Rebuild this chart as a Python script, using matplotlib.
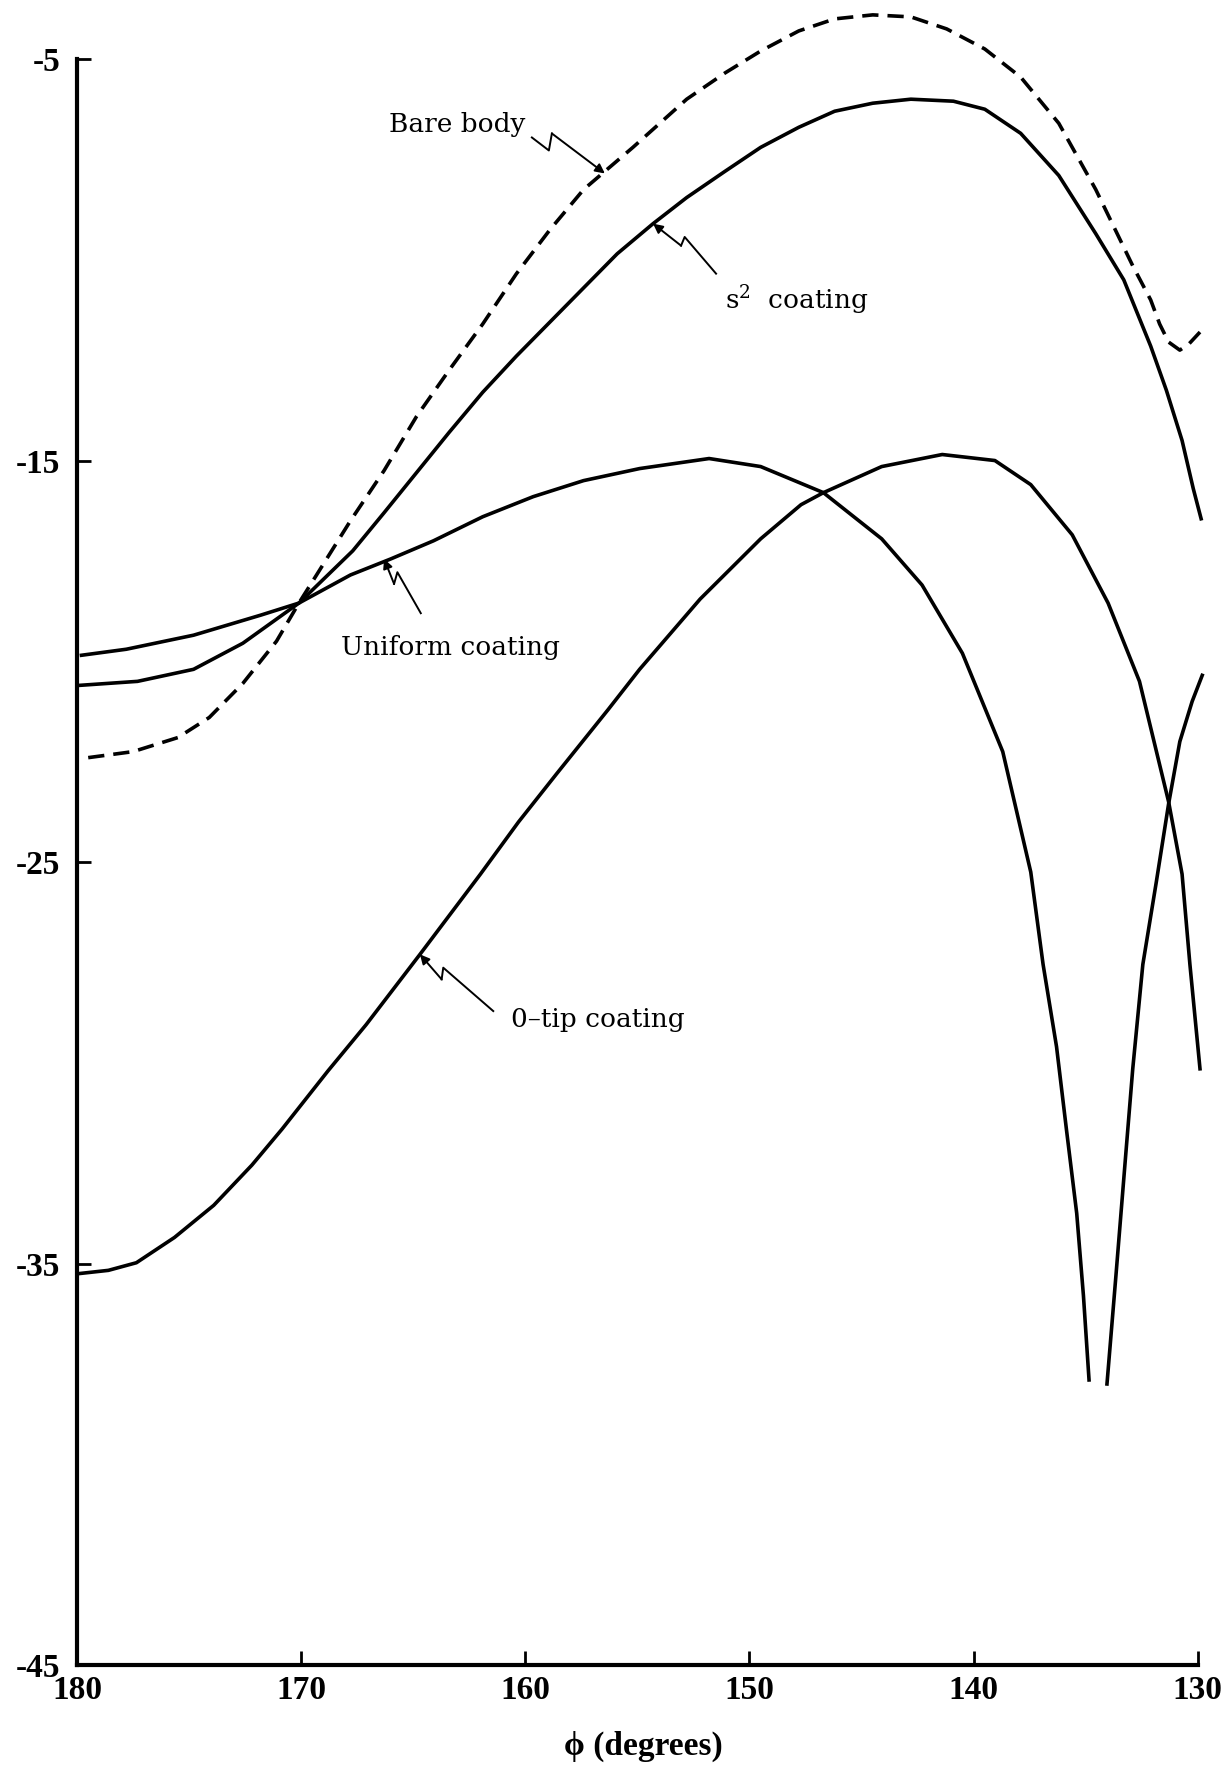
import numpy as np
import matplotlib
matplotlib.use('Agg')
import matplotlib.pyplot as plt

plt.rcParams['mathtext.fontset'] = 'dejavuserif'
plt.rcParams['mathtext.default'] = 'regular'

# curves (phi in degrees, level in dB)
bare_x = [179.5, 177.5, 175.5, 174.1, 172.6, 171.1, 170.1, 169.2, 167.8, 166.3,
          164.85, 163.4, 161.9, 160.4, 158.9, 157.4, 155.2, 154.4, 152.8, 151.1,
          149.5, 147.8, 146.2, 144.5, 142.8, 141.2, 139.5, 137.9, 136.2, 134.55,
          132.9, 132.1, 131.7, 131.3, 130.8, 130.4, 129.9]
bare_y = [-22.4, -22.25, -21.9, -21.4, -20.55, -19.5, -18.55, -17.75, -16.5, -15.25,
          -13.9, -12.75, -11.6, -10.35, -9.25, -8.25, -7.2, -6.8, -6.0, -5.35,
          -4.8, -4.3, -4.0, -3.9, -3.95, -4.25, -4.75, -5.45, -6.6, -8.25,
          -10.15, -11.0, -11.6, -12.05, -12.25, -12.1, -11.8]

s2_x = [179.9, 177.3, 174.8, 172.6, 170.1, 167.7, 166.3, 164.85, 163.4, 161.9,
        160.4, 158.9, 157.4, 155.9, 154.3, 152.8, 151.1, 149.5, 147.8, 146.2,
        144.5, 142.8, 140.9, 139.5, 137.9, 136.2, 134.55, 133.3, 132.1, 131.4,
        130.7, 130.2, 129.85]
s2_y = [-20.6, -20.5, -20.2, -19.55, -18.55, -17.25, -16.3, -15.3, -14.3, -13.3,
        -12.4, -11.55, -10.7, -9.85, -9.1, -8.45, -7.8, -7.2, -6.7, -6.3,
        -6.1, -6.0, -6.05, -6.25, -6.85, -7.9, -9.35, -10.5, -12.15, -13.25,
        -14.5, -15.7, -16.45]

uniform_x = [179.8, 177.8, 174.8, 171.8, 170.1, 167.8, 166.0, 164.1, 161.9, 159.65,
             157.4, 154.9, 151.8, 149.5, 146.7, 144.1, 142.3, 140.5, 138.7, 138.2,
             137.45, 136.9, 136.3, 135.85, 135.4, 135.1, 134.85, np.nan,
             134.05, 133.65, 133.2, 132.9, 132.45, 131.85, 131.3, 130.8, 130.25, 129.8]
uniform_y = [-19.85, -19.7, -19.35, -18.85, -18.55, -17.85, -17.45, -17.0, -16.4, -15.9,
             -15.5, -15.2, -14.95, -15.15, -15.8, -16.95, -18.1, -19.8, -22.25, -23.45,
             -25.25, -27.55, -29.6, -31.7, -33.75, -35.8, -37.9, np.nan,
             -38.0, -35.3, -32.2, -30.15, -27.55, -25.5, -23.55, -22.0, -21.0, -20.35]

tip_x = [179.9, 178.6, 177.35, 175.65, 173.9, 172.2, 170.85, 168.8, 167.1, 164.7, 162.0,
         160.3, 158.6, 156.3, 154.9, 152.2, 149.5, 147.7, 146.7, 144.1, 141.4,
         139.05, 137.45, 135.6, 134.0, 132.6, 131.3, 130.7, 130.35, 129.9]
tip_y = [-35.25, -35.17, -34.98, -34.35, -33.55, -32.55, -31.65, -30.2, -29.05, -27.3, -25.3,
         -24.0, -22.8, -21.2, -20.2, -18.45, -16.95, -16.1, -15.8, -15.15, -14.85,
         -15.0, -15.6, -16.85, -18.55, -20.5, -23.5, -25.3, -27.55, -30.15]

xticks = [180, 170, 160, 150, 140, 130]
yticks = [-45, -35, -25, -15, -5]
ytick_labels = ['-45', '-35', '-25', '-15', '-5']

tick_font = dict(family='Liberation Serif', size=24, weight='bold')
note_font = dict(family='DejaVu Serif', size=19)
line_kw = dict(color='k', lw=2.6, clip_on=False,
               solid_joinstyle='round', dash_joinstyle='round')

fig = plt.figure(figsize=(12.32, 17.73), dpi=100)
ax = fig.add_axes([0.0625, 0.0609, 0.9188, 0.9375])

ax.plot(bare_x, bare_y, dashes=(4.5, 2.5), **line_kw)
ax.plot(s2_x, s2_y, **line_kw)
ax.plot(uniform_x, uniform_y, **line_kw)
ax.plot(tip_x, tip_y, **line_kw)

ax.set_xlim(180, 129.5)
ax.set_ylim(-45, -3.6)
for s in ['top', 'right']:
    ax.spines[s].set_visible(False)
ax.spines['left'].set_bounds(-45, -5)
ax.spines['bottom'].set_bounds(180, 130)
for s in ['left', 'bottom']:
    ax.spines[s].set_linewidth(3)

ax.set_xticks(xticks)
ax.set_xticklabels([str(t) for t in xticks], fontdict=tick_font)
ax.set_yticks(yticks)
ax.set_yticklabels(ytick_labels, fontdict=tick_font)
ax.tick_params(axis='both', direction='in', length=10, width=2)
ax.tick_params(axis='x', pad=7)
ax.tick_params(axis='y', pad=12)
ax.set_xlabel('ϕ (degrees)', fontdict=tick_font, labelpad=18)


def leader(xt, yt, offs):
    # zig-zag leader from label to curve, offsets in pixels (x right, y down)
    px, py = ax.transData.transform((xt, yt))
    pts = np.array([(px + dx, py - dy) for dx, dy in offs])
    d = ax.transData.inverted().transform(pts)
    ax.plot(d[:-1, 0], d[:-1, 1], color='k', lw=1.4, clip_on=False)
    ax.annotate('', xy=(xt, yt), xytext=(d[-2, 0], d[-2, 1]),
                arrowprops=dict(arrowstyle='-|>', color='k', lw=1.4,
                                mutation_scale=14, shrinkA=0, shrinkB=0))


ax.text(166.1, -6.62, 'Bare body', va='center', ha='left', **note_font)
leader(156.45, -7.85, [(-73, -36), (-56, -23), (-53, -40), (0, 0)])

ax.text(151.1, -11.0, 's$^2$  coating', va='center', ha='left', **note_font)
leader(154.3, -9.1, [(63, 50), (31.6, 13.3), (28, 22), (0, 0)])

ax.text(168.2, -19.66, 'Uniform coating', va='center', ha='left', **note_font)
leader(166.3, -17.45, [(36.7, 54.3), (13.3, 13.3), (10, 25), (0, 0)])

ax.text(160.64, -28.92, '0–tip coating', va='center', ha='left', **note_font)
leader(164.7, -27.3, [(73.3, 56.7), (23.3, 13.3), (21.7, 25), (0, 0)])

fig.savefig('out.png', dpi=100)
